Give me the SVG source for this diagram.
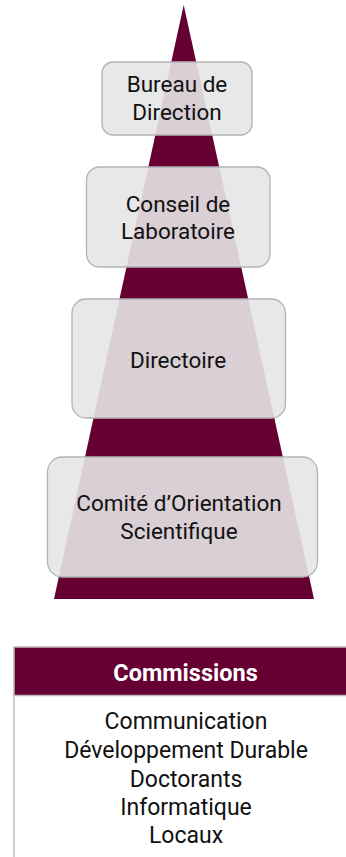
<svg xmlns="http://www.w3.org/2000/svg" width="346" height="857" viewBox="0 0 346 857">
<style>
.box{fill:#e6e6e6;fill-opacity:0.9;stroke:#b3b3b3;stroke-width:1.3}
.t{font-family:Roboto,"Liberation Sans",sans-serif;font-size:22.5px;fill:#111;text-anchor:middle}
.l{font-family:Roboto,"Liberation Sans",sans-serif;font-size:23px;fill:#111;text-anchor:middle}
.h{font-family:Roboto,"Liberation Sans",sans-serif;font-size:23.5px;font-weight:bold;fill:#fff;text-anchor:middle}
</style>
<rect width="346" height="857" fill="#fff"/>
<g id="pyramid"><polygon points="183.7,5 314,599 54,599" fill="#660033"/></g>
<g id="connectors"></g>
<g id="bureau"><rect class="box" x="102" y="62" width="150" height="73" rx="11"/>
<text class="t" x="177" y="92">Bureau de</text><text class="t" x="177" y="119.5">Direction</text></g>
<g id="conseil"><rect class="box" x="86.5" y="167" width="183.5" height="100" rx="13"/>
<text class="t" x="178" y="211.5">Conseil de</text><text class="t" x="178" y="239">Laboratoire</text></g>
<g id="directoire"><rect class="box" x="72" y="299" width="213.5" height="119" rx="14"/>
<text class="t" x="178" y="367.5">Directoire</text></g>
<g id="comite"><rect class="box" x="47.5" y="457" width="270" height="120" rx="15"/>
<text class="t" x="179" y="511">Comité d’Orientation</text><text class="t" x="179" y="538.5">Scientifique</text></g>
<g id="commissions">
<rect x="14" y="647" width="340" height="48.5" fill="#660033" stroke="#bbbbbb" stroke-width="1.5"/>
<line x1="14" y1="695.5" x2="14" y2="857" stroke="#bbbbbb" stroke-width="1.5"/>
<text class="h" x="185.5" y="681">Commissions</text>
<text class="l" x="186" y="728.5">Communication</text>
<text class="l" x="186" y="758">Développement Durable</text>
<text class="l" x="186" y="786.5">Doctorants</text>
<text class="l" x="186" y="815">Informatique</text>
<text class="l" x="186" y="843">Locaux</text>
</g>
</svg>
